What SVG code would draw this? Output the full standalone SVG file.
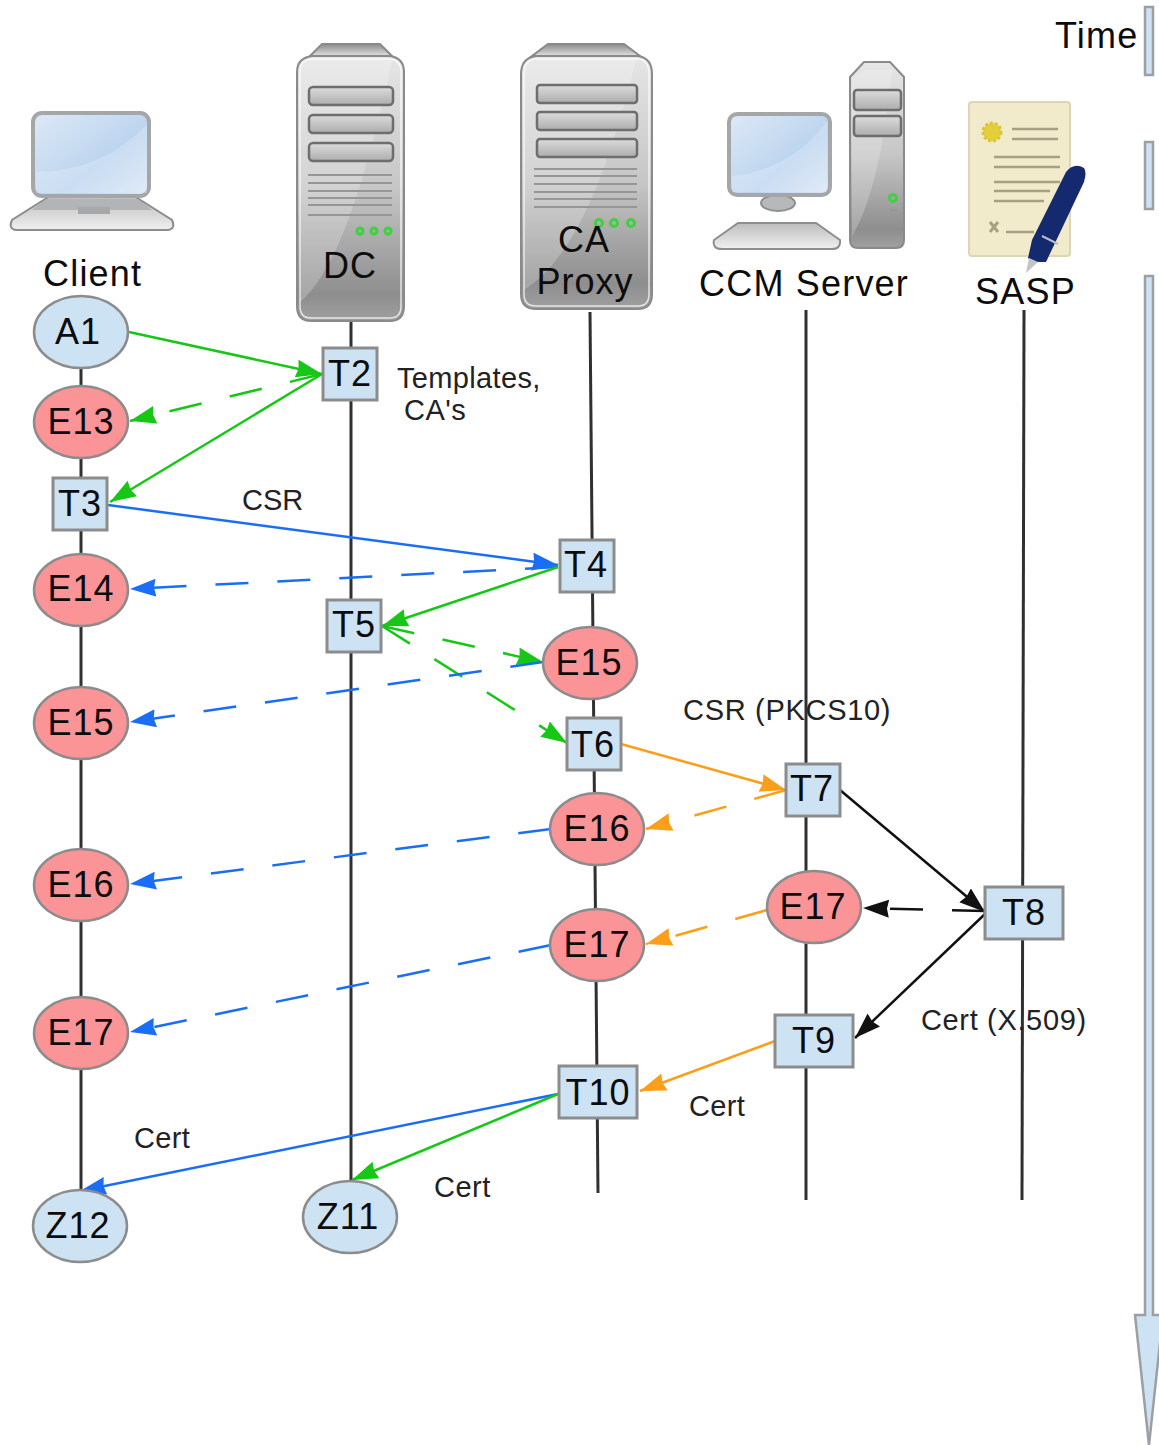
<svg xmlns="http://www.w3.org/2000/svg" width="1159" height="1445" viewBox="0 0 1159 1445">
<style>
text{font-family:"Liberation Sans",Arial,sans-serif;fill:#0c0c0c}
.n{font-size:36px;text-anchor:middle;letter-spacing:1px}
.h{font-size:36px;letter-spacing:1.2px}
.l{font-size:29px;fill:#222}
.box{fill:#cde3f3;stroke:#8c8c8c;stroke-width:3}
.blue{fill:#cde3f3;stroke:#8c8c8c;stroke-width:2.5}
.red{fill:#fb9496;stroke:#8c8c8c;stroke-width:2.5}
.life{stroke:#303030;stroke-width:3;fill:none}
.c{fill:none;stroke-width:2.5}
.dash{stroke-dasharray:33 29}
.g{stroke:#16c716}.b{stroke:#1a6ef5}.o{stroke:#fb9e1a}.k{stroke:#111}
.case{fill:url(#metal);stroke:#8a8a8a;stroke-width:2}
.top{fill:url(#capg);stroke:#8a8a8a;stroke-width:2}
.inner{fill:none;stroke:#fff;stroke-width:1.5;opacity:.75}
.bay{fill:url(#bay);stroke:#6e6e6e;stroke-width:2.5}
.vent{stroke:#969696;stroke-width:2}
.led{fill:none;stroke:#3fd13f;stroke-width:3}
.screen{fill:url(#scr);stroke:#a4a6a8;stroke-width:4}
.plastic{fill:url(#plas);stroke:#8c8e90;stroke-width:2}
.rule{stroke:#a8a084;stroke-width:2.5}
.t{fill:#cde3f3;stroke:#9ca0a4;stroke-width:2.5}
.sheen{fill:#fff;opacity:.22}
</style>
<defs>
<linearGradient id="metal" x1="0" y1="0" x2="0" y2="1"><stop offset="0" stop-color="#e6e6e6"/><stop offset=".5" stop-color="#c6c6c6"/><stop offset=".9" stop-color="#8e8e8e"/><stop offset="1" stop-color="#a0a0a0"/></linearGradient>
<linearGradient id="capg" x1="0" y1="0" x2="0" y2="1"><stop offset="0" stop-color="#8a8a8a"/><stop offset="1" stop-color="#e0e0e0"/></linearGradient>
<linearGradient id="bay" x1="0" y1="0" x2="0" y2="1"><stop offset="0" stop-color="#dcdcdc"/><stop offset="1" stop-color="#adadad"/></linearGradient>
<linearGradient id="scr" x1="0" y1="0" x2="1" y2="1"><stop offset="0" stop-color="#dde9f6"/><stop offset=".6" stop-color="#bcd4ef"/><stop offset="1" stop-color="#d8e6f5"/></linearGradient>
<linearGradient id="plas" x1="0" y1="0" x2="0" y2="1"><stop offset="0" stop-color="#bdbdbd"/><stop offset="1" stop-color="#f0f0f0"/></linearGradient>
<marker id="ag" markerUnits="userSpaceOnUse" markerWidth="28" markerHeight="20" refX="26" refY="9" orient="auto"><path d="M0 0L26 9L0 18L2 9Z" fill="#16c716"/></marker>
<marker id="ab" markerUnits="userSpaceOnUse" markerWidth="28" markerHeight="20" refX="26" refY="9" orient="auto"><path d="M0 0L26 9L0 18L2 9Z" fill="#1a6ef5"/></marker>
<marker id="ao" markerUnits="userSpaceOnUse" markerWidth="28" markerHeight="20" refX="26" refY="9" orient="auto"><path d="M0 0L26 9L0 18L2 9Z" fill="#fb9e1a"/></marker>
<marker id="ak" markerUnits="userSpaceOnUse" markerWidth="28" markerHeight="20" refX="26" refY="9" orient="auto"><path d="M0 0L26 9L0 18L2 9Z" fill="#111"/></marker>
</defs>
<rect width="1159" height="1445" fill="#fff"/>

<g id="lifelines">
<path class="life" d="M81 368V1190"/>
<path class="life" d="M351 321V1182"/>
<path class="life" d="M590 312L598 1193"/>
<path class="life" d="M806 310V1200"/>
<path class="life" d="M1024 310L1022 1200"/>
</g>

<g id="client-icon">
<path class="plastic" d="M50 196H134L172 220Q176 229 168 230H16Q8 229 12 220Z"/>
<path d="M46 199H138L152 210H32Z" fill="#b2b4b6"/>
<rect x="78" y="207" width="32" height="7" fill="#a6a8aa"/>
<rect class="screen" x="33" y="113" width="116" height="83" rx="9"/>
<path class="sheen" d="M36 172Q100 172 147 125V193H36Z"/>
<text class="h" x="43" y="286">Client</text>
</g>

<g id="dc-icon">
<path class="top" d="M322 44H380L392 56H310Z"/>
<path class="case" d="M312 56H390Q404 58 404 72V306Q404 321 390 321H311Q297 321 297 306V72Q297 58 312 56Z"/>
<path class="sheen" d="M300 302Q350 260 392 60H311Q300 62 300 72Z"/>
<path class="inner" d="M312 59H390Q401 60 401 72V306Q401 318 390 318H311Q300 318 300 306V72Q300 60 312 59Z"/>
<rect class="bay" x="309" y="87" width="84" height="18" rx="4"/>
<rect class="bay" x="309" y="115" width="84" height="18" rx="4"/>
<rect class="bay" x="309" y="143" width="84" height="18" rx="4"/>
<path class="vent" d="M308 175H392M308 183H392M308 191H392M308 198H392M308 205H392M308 215H392"/>
<circle class="led" cx="360" cy="231" r="3"/><circle class="led" cx="374" cy="231" r="3"/><circle class="led" cx="388" cy="231" r="3"/>
<text class="n" x="350" y="278">DC</text>
</g>

<g id="ca-proxy-icon">
<path class="top" d="M548 44H624L640 56H532Z"/>
<path class="case" d="M536 56H638Q652 58 652 74V294Q652 309 638 309H536Q521 309 521 294V74Q521 58 536 56Z"/>
<path class="sheen" d="M524 290Q590 250 636 60H536Q524 62 524 74Z"/>
<path class="inner" d="M536 59H638Q649 60 649 74V294Q649 306 638 306H536Q524 306 524 294V74Q524 60 536 59Z"/>
<rect class="bay" x="537" y="85" width="100" height="18" rx="3"/>
<rect class="bay" x="537" y="112" width="100" height="18" rx="3"/>
<rect class="bay" x="537" y="139" width="100" height="18" rx="3"/>
<path class="vent" d="M534 169H637M534 176H637M534 184H637M534 192H637M534 199H637M534 207H637"/>
<circle class="led" cx="599" cy="223" r="3.5"/><circle class="led" cx="614" cy="223" r="3.5"/><circle class="led" cx="631" cy="223" r="3.5"/>
<text class="n" x="584" y="252">CA</text>
<text class="n" x="585" y="294">Proxy</text>
</g>

<g id="ccm-server-icon">
<path class="case" d="M864 62H890L904 77V240Q904 248 896 248H858Q850 248 850 240V77Z"/>
<path class="sheen" d="M852 236Q880 190 892 70H864L852 78Z"/>
<rect class="bay" x="854" y="90" width="47" height="20" rx="3"/>
<rect class="bay" x="854" y="116" width="47" height="20" rx="3"/>
<circle class="led" cx="893" cy="198" r="3.5"/>
<path class="vent" d="M890 210H897M890 215H897" stroke-width="2.5"/>
<ellipse cx="778" cy="203" rx="17" ry="8" fill="#b6b8ba" stroke="#8c8e90" stroke-width="2"/>
<rect class="screen" x="729" y="114" width="101" height="81" rx="8"/>
<path class="sheen" d="M732 176Q790 170 827 122V192H732Z"/>
<path class="plastic" d="M738 223H816L840 240Q841 249 832 249H722Q712 249 714 240Z"/>
<text class="h" x="699" y="296">CCM Server</text>
</g>

<g id="sasp-icon">
<rect x="969" y="102" width="101" height="154" rx="3" fill="#f1ebcc" stroke="#dbd6b8" stroke-width="2"/>
<circle cx="992" cy="132" r="9" fill="#e2cf3a" stroke="#d8c63a" stroke-width="3" stroke-dasharray="3 2"/>
<path class="rule" d="M1012 129H1058M1012 139H1058M994 157H1060M994 167H1060M994 182H1060M994 191H1050M994 201H1044M1006 232H1034"/>
<path d="M990 222L998 232M998 222L990 232" stroke="#a8a084" stroke-width="3"/>
<path d="M1028 258L1032 240L1066 172Q1074 162 1084 168Q1087 172 1084 182L1046 262L1032 262Z" fill="#15296f"/>
<path d="M1026 273L1029 258L1038 262Z" fill="#c4c4c4"/>
<path d="M1042 236L1058 244" stroke="#b9bfd0" stroke-width="2"/>
<text class="h" x="975" y="304">SASP</text>
</g>

<g id="time">
<path class="t" d="M1145 7H1153V75H1145ZM1145 142H1153V209H1145Z"/>
<path class="t" d="M1145 276H1153V1315H1163L1149 1445L1135 1315H1145Z"/>
<text class="h" x="1055" y="48">Time</text>
</g>

<g id="connectors">
<path class="c g" marker-end="url(#ag)" d="M129 332L322 374"/>
<path class="c g dash" marker-end="url(#ag)" d="M322 374L130 421"/>
<path class="c g" marker-end="url(#ag)" d="M322 374L110 502"/>
<path class="c b" marker-end="url(#ab)" d="M108 505L558 565"/>
<path class="c b dash" marker-end="url(#ab)" d="M558 567L130 589"/>
<path class="c g" marker-end="url(#ag)" d="M558 567L382 626"/>
<path class="c g dash" marker-end="url(#ag)" d="M382 626L543 662"/>
<path class="c g dash" marker-end="url(#ag)" d="M382 626L567 743"/>
<path class="c b dash" marker-end="url(#ab)" d="M543 662L130 722"/>
<path class="c o" marker-end="url(#ao)" d="M621 744L786 790"/>
<path class="c o dash" marker-end="url(#ao)" d="M786 790L646 829"/>
<path class="c b dash" marker-end="url(#ab)" d="M551 829L130 884"/>
<path class="c k" marker-end="url(#ak)" d="M840 790L985 912"/>
<path class="c k dash" marker-end="url(#ak)" d="M985 911L863 908"/>
<path class="c k" marker-end="url(#ak)" d="M985 914L855 1038"/>
<path class="c o dash" marker-end="url(#ao)" d="M767 910L646 944"/>
<path class="c b dash" marker-end="url(#ab)" d="M551 945L130 1032"/>
<path class="c o" marker-end="url(#ao)" d="M775 1041L640 1091"/>
<path class="c b" marker-end="url(#ab)" d="M558 1094L80 1191"/>
<path class="c g" marker-end="url(#ag)" d="M558 1094L352 1180"/>
</g>

<g id="A1"><ellipse class="blue" cx="81" cy="332" rx="47" ry="36"/><text class="n" x="78" y="344" letter-spacing="3">A1</text></g>
<g id="E13"><ellipse class="red" cx="81" cy="422" rx="47" ry="36"/><text class="n" x="81" y="434">E13</text></g>
<g id="T2"><rect class="box" x="323" y="348" width="54" height="52"/><text class="n" x="350" y="386">T2</text></g>
<g id="T3"><rect class="box" x="53" y="478" width="54" height="52"/><text class="n" x="80" y="516">T3</text></g>
<g id="E14"><ellipse class="red" cx="81" cy="590" rx="47" ry="36"/><text class="n" x="81" y="601">E14</text></g>
<g id="T4"><rect class="box" x="560" y="540" width="54" height="52"/><text class="n" x="586" y="577">T4</text></g>
<g id="T5"><rect class="box" x="327" y="600" width="54" height="52"/><text class="n" x="354" y="637">T5</text></g>
<g id="E15a"><ellipse class="red" cx="590" cy="663" rx="47" ry="36"/><text class="n" x="589" y="675">E15</text></g>
<g id="E15b"><ellipse class="red" cx="81" cy="723" rx="47" ry="36"/><text class="n" x="81" y="735">E15</text></g>
<g id="T6"><rect class="box" x="567" y="718" width="54" height="52"/><text class="n" x="593" y="757">T6</text></g>
<g id="T7"><rect class="box" x="786" y="764" width="54" height="52"/><text class="n" x="812" y="801">T7</text></g>
<g id="E16a"><ellipse class="red" cx="597" cy="829" rx="47" ry="36"/><text class="n" x="597" y="841">E16</text></g>
<g id="E16b"><ellipse class="red" cx="81" cy="885" rx="47" ry="36"/><text class="n" x="81" y="897">E16</text></g>
<g id="T8"><rect class="box" x="985" y="887" width="78" height="52"/><text class="n" x="1024" y="925">T8</text></g>
<g id="E17a"><ellipse class="red" cx="814" cy="907" rx="47" ry="36"/><text class="n" x="813" y="919">E17</text></g>
<g id="E17b"><ellipse class="red" cx="597" cy="945" rx="47" ry="36"/><text class="n" x="597" y="957">E17</text></g>
<g id="E17c"><ellipse class="red" cx="81" cy="1033" rx="47" ry="36"/><text class="n" x="81" y="1045">E17</text></g>
<g id="T9"><rect class="box" x="775" y="1015" width="78" height="52"/><text class="n" x="814" y="1053">T9</text></g>
<g id="T10"><rect class="box" x="559" y="1066" width="78" height="52"/><text class="n" x="598" y="1105">T10</text></g>
<g id="Z12"><ellipse class="blue" cx="80" cy="1226" rx="47" ry="36"/><text class="n" x="78" y="1238">Z12</text></g>
<g id="Z11"><ellipse class="blue" cx="350" cy="1217" rx="47" ry="36"/><text class="n" x="348" y="1229">Z11</text></g>

<g id="labels">
<text class="l" x="397" y="388" letter-spacing=".35">Templates,</text>
<text class="l" x="404" y="420" letter-spacing=".5">CA's</text>
<text class="l" x="242" y="510">CSR</text>
<text class="l" x="683" y="720" letter-spacing=".7">CSR (PKCS10)</text>
<text class="l" x="921" y="1030" letter-spacing=".65">Cert (X.509)</text>
<text class="l" x="689" y="1116" letter-spacing=".3">Cert</text>
<text class="l" x="134" y="1148" letter-spacing=".3">Cert</text>
<text class="l" x="434" y="1197" letter-spacing=".5">Cert</text>
</g>
</svg>
